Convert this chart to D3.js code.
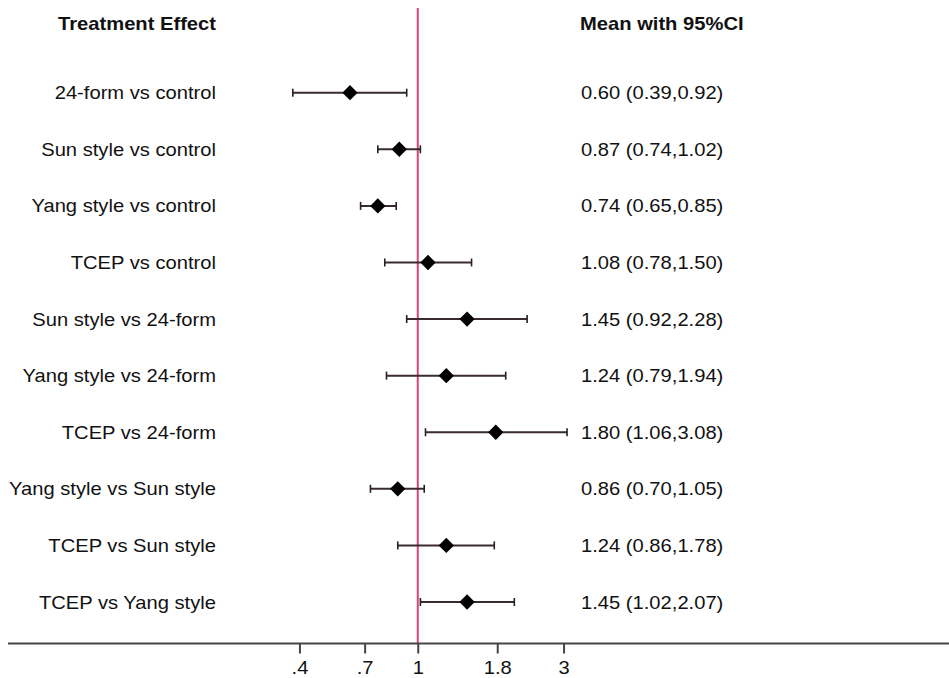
<!DOCTYPE html>
<html>
<head>
<meta charset="utf-8">
<script src="https://cdn.jsdelivr.net/npm/d3@7"></script>
<style>
  html, body { margin: 0; padding: 0; background: #fff; }
  svg { display: block; }
  text { font-family: "Liberation Sans", Arial, sans-serif; fill: #111; }
</style>
</head>
<body>
<svg id="chart" width="949" height="678"></svg>
<script>
// Pairwise comparisons (ratio with 95% CI)
const comparisons = [
  "24-form vs control",
  "Sun style vs control",
  "Yang style vs control",
  "TCEP vs control",
  "Sun style vs 24-form",
  "Yang style vs 24-form",
  "TCEP vs 24-form",
  "Yang style vs Sun style",
  "TCEP vs Sun style",
  "TCEP vs Yang style"
];
const means = [0.60, 0.87, 0.74, 1.08, 1.45, 1.24, 1.80, 0.86, 1.24, 1.45];
const lower = [0.39, 0.74, 0.65, 0.78, 0.92, 0.79, 1.06, 0.70, 0.86, 1.02];
const upper = [0.92, 1.02, 0.85, 1.50, 2.28, 1.94, 3.08, 1.05, 1.78, 2.07];

// Axis ticks (values on the log scale and their printed labels)
const tickValues = [0.41, 0.67, 1, 1.82, 3];
const tickLabels = [".4", ".7", "1", "1.8", "3"];

const rows = comparisons.map((c, i) => ({
  label: c, mean: means[i], lo: lower[i], hi: upper[i]
}));

const svg = d3.select("#chart");
const W = 949, H = 678;
const axisY = 643.5;

const x = d3.scaleLog().domain([0.3, 3.5]).range([258, 584]);
const y = d3.scalePoint().domain(comparisons).range([92.7, 602]);

const fmt = d3.format(".2f");
const sx = 1.12; // horizontal stretch of the text

// Column headers
svg.append("text")
  .attr("transform", `translate(216,30) scale(${sx},1)`)
  .attr("text-anchor", "end")
  .attr("font-weight", "bold")
  .attr("font-size", 18)
  .text("Treatment Effect");
svg.append("text")
  .attr("transform", `translate(580,30) scale(${sx},1)`)
  .attr("text-anchor", "start")
  .attr("font-weight", "bold")
  .attr("font-size", 18)
  .text("Mean with 95%CI");

// Reference line at no effect
svg.append("line")
  .attr("x1", x(1)).attr("x2", x(1))
  .attr("y1", 8).attr("y2", axisY)
  .attr("stroke", "#d9466f")
  .attr("stroke-width", 2);

// Bottom axis baseline across the full width
svg.append("line")
  .attr("x1", 8).attr("x2", W)
  .attr("y1", axisY).attr("y2", axisY)
  .attr("stroke", "#444")
  .attr("stroke-width", 2);

const axis = d3.axisBottom(x)
  .tickValues(tickValues)
  .tickFormat((d, i) => tickLabels[i])
  .tickSize(10)
  .tickPadding(10);

const ag = svg.append("g")
  .attr("transform", `translate(0,${axisY})`)
  .call(axis);
ag.select(".domain").remove();
ag.selectAll(".tick line").attr("stroke", "#444").attr("stroke-width", 2);
ag.selectAll(".tick text")
  .attr("font-size", 18)
  .attr("font-family", "Liberation Sans, Arial, sans-serif")
  .attr("fill", "#111")
  .attr("y", 0)
  .attr("dy", 0)
  .attr("transform", `translate(0,30) scale(${sx},1)`);

// Row labels
const g = svg.append("g");
g.selectAll("text.lab").data(rows).join("text")
  .attr("class", "lab")
  .attr("transform", d => `translate(216,${y(d.label) + 6.5}) scale(${sx},1)`)
  .attr("text-anchor", "end")
  .attr("font-size", 18)
  .text(d => d.label);

// Estimate text
g.selectAll("text.est").data(rows).join("text")
  .attr("class", "est")
  .attr("transform", d => `translate(581,${y(d.label) + 6.5}) scale(1.12,1)`)
  .attr("text-anchor", "start")
  .attr("font-size", 18)
  .text(d => `${fmt(d.mean)} (${fmt(d.lo)},${fmt(d.hi)})`);

// Confidence intervals
const ci = svg.append("g");
ci.selectAll("line.ci").data(rows).join("line")
  .attr("class", "ci")
  .attr("x1", d => x(d.lo)).attr("x2", d => x(d.hi))
  .attr("y1", d => y(d.label)).attr("y2", d => y(d.label))
  .attr("stroke", "#3b2a2e").attr("stroke-width", 2);
ci.selectAll("line.capL").data(rows).join("line")
  .attr("class", "capL")
  .attr("x1", d => x(d.lo)).attr("x2", d => x(d.lo))
  .attr("y1", d => y(d.label) - 4).attr("y2", d => y(d.label) + 4)
  .attr("stroke", "#222").attr("stroke-width", 1.6);
ci.selectAll("line.capR").data(rows).join("line")
  .attr("class", "capR")
  .attr("x1", d => x(d.hi)).attr("x2", d => x(d.hi))
  .attr("y1", d => y(d.label) - 4).attr("y2", d => y(d.label) + 4)
  .attr("stroke", "#222").attr("stroke-width", 1.6);

// Point estimates as diamonds
const diamond = d3.symbol().type(d3.symbolDiamond2).size(150);
ci.selectAll("path.pt").data(rows).join("path")
  .attr("class", "pt")
  .attr("transform", d => `translate(${x(d.mean)},${y(d.label)})`)
  .attr("d", diamond)
  .attr("fill", "#000");
</script>
</body>
</html>
